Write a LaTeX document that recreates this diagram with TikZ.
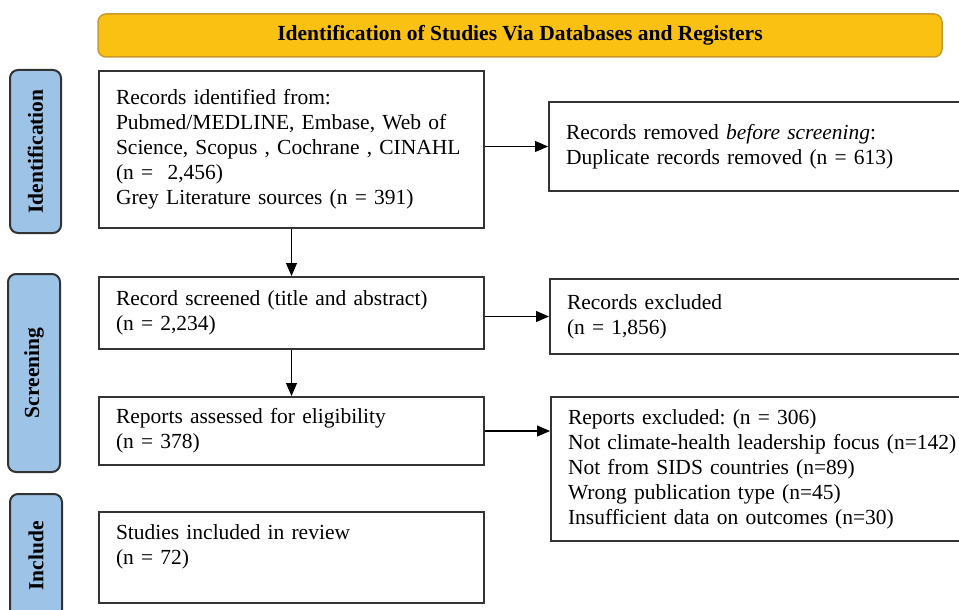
\documentclass[tikz,border=0pt]{standalone}
\usepackage{fontspec}
\setmainfont{Liberation Serif}
\usetikzlibrary{positioning,arrows.meta}
\frenchspacing

\definecolor{headgold}{HTML}{FAC012}
\definecolor{headedge}{HTML}{C99A2E}
\definecolor{phaseblue}{HTML}{9DC3E6}
\definecolor{boxedge}{HTML}{333333}

\tikzset{
  flowbox/.style={draw=boxedge, line width=2pt, anchor=north west, align=left, inner xsep=17pt},
  phase/.style={draw=boxedge, line width=2pt, fill=phaseblue, rounded corners=8pt, rotate=90, font=\fontsize{21.5}{25}\selectfont\bfseries},
  flowarrow/.style={-{Triangle[length=13pt,width=11pt]}, line width=1.1pt}
}

\begin{document}
\begin{tikzpicture}[x=1pt, y=-1pt, font=\fontsize{21.5}{25}\selectfont]
  \useasboundingbox (0,0) rectangle (959,610);
  \clip (0,0) rectangle (959,610);

  % Cabecera
  \node[draw=headedge, line width=1.5pt, fill=headgold, rounded corners=8pt, minimum width=844pt, minimum height=43pt, font=\fontsize{21.5}{25}\selectfont\bfseries] (head) at (520,35.5) {Identification of Studies Via Databases and Registers};

  % Fases
  \node[phase, minimum width=163pt, minimum height=51pt] (idlabel) at (35.5,151.5) {Identification};
  \node[phase, minimum width=198pt, minimum height=52pt] (sclabel) at (34,373) {Screening};
  \node[phase, minimum width=124pt, minimum height=52pt] (inlabel) at (36,556) {Include};

  % Cajas izquierda
  \node[flowbox, text width=351pt, minimum height=157pt] (ident) at (98,70) {Records identified from:\\Pubmed/MEDLINE, Embase, Web of\\Science, Scopus , Cochrane , CINAHL\\(n = \ 2,456)\\Grey Literature sources (n = 391)};
  \node[flowbox, text width=351pt, minimum height=72pt] (screen) at (98,276) {Record screened (title and abstract)\\(n = 2,234)};
  \node[flowbox, text width=351pt, minimum height=68pt] (assess) at (98,396) {Reports assessed for eligibility\\(n = 378)};
  \node[flowbox, text width=351pt, minimum height=91pt] (incl) at (98,511) {Studies included in review\\(n = 72)\\\mbox{}};

  % Cajas derecha
  \node[flowbox, text width=420pt, minimum height=89pt] (removed) at (548,101) {Records removed \textit{before screening}:\\Duplicate records removed (n = 613)};
  \node[flowbox, text width=420pt, minimum height=75pt] (excl) at (549,278) {Records excluded\\(n = 1,856)};
  \node[flowbox, text width=420pt, minimum height=144pt] (repexcl) at (550,396) {Reports excluded: (n = 306)\\Not climate-health leadership focus (n=142)\\Not from SIDS countries (n=89)\\Wrong publication type (n=45)\\Insufficient data on outcomes (n=30)};

  % Flechas
  \draw[flowarrow] (ident) -- (screen);
  \draw[flowarrow] (screen) -- (assess);
  \draw[flowarrow] (ident.east |- removed.west) -- (removed.west);
  \draw[flowarrow] (screen.east |- excl.west) -- (excl.west);
  \draw[flowarrow] (assess.east) -- (assess.east -| repexcl.west);
\end{tikzpicture}
\end{document}
